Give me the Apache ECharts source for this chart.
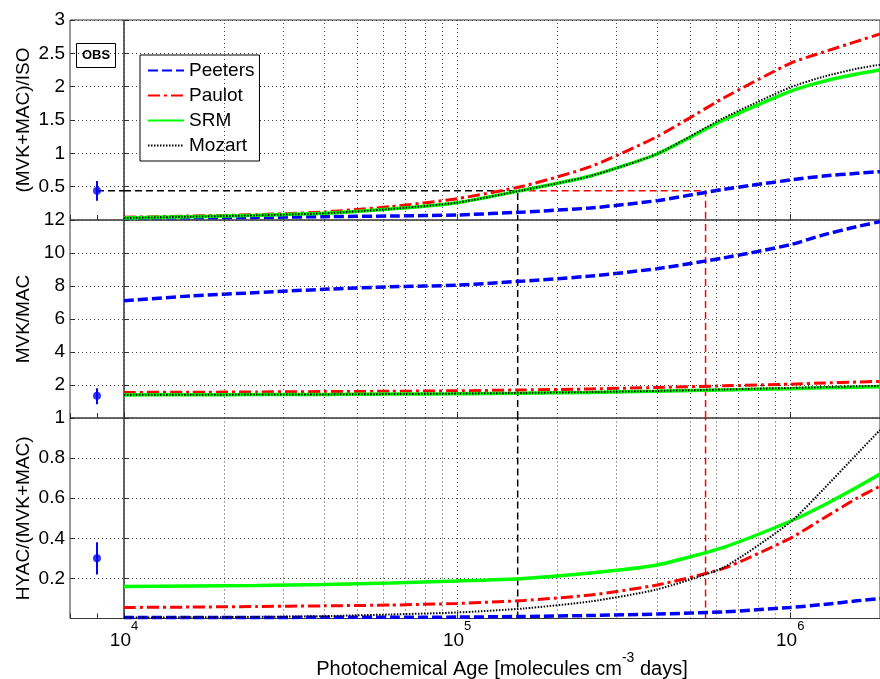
<!DOCTYPE html>
<html><head><meta charset="utf-8">
<script src="https://cdn.jsdelivr.net/npm/echarts@6/dist/echarts.min.js"></script>
<style>html,body{margin:0;padding:0;background:#fff}#c{width:880px;height:679px}</style>
</head><body><div id="c"></div>
<script>
// ---- data ----
const age = [1e4, 1.585e4, 2.512e4, 3.981e4, 6.31e4, 1e5, 1.585e5, 2.512e5, 3.981e5, 6.31e5, 1e6, 1.259e6, 1.585e6, 1.86e6];
const xTickExponents = [4, 5, 6];
const minorGrid = [2e4,3e4,4e4,5e4,6e4,7e4,8e4,9e4,2e5,3e5,4e5,5e5,6e5,7e5,8e5,9e5];
const seriesNames = ['Peeters', 'Paulot', 'SRM', 'Mozart'];
const panelNames = ['(MVK+MAC)/ISO', 'MVK/MAC', 'HYAC/(MVK+MAC)'];
const yMin = [0, 0, 0];
const yMax = [3, 12, 1];
const yStep = [0.5, 2, 0.2];

// (MVK+MAC)/ISO
const peeters1 = [0.03, 0.035, 0.04, 0.05, 0.06, 0.075, 0.12, 0.18, 0.29, 0.46, 0.6, 0.66, 0.7, 0.725];
const paulot1  = [0.04, 0.06, 0.08, 0.12, 0.2, 0.32, 0.51, 0.8, 1.25, 1.83, 2.35, 2.52, 2.68, 2.79];
const srm1     = [0.03, 0.05, 0.07, 0.1, 0.165, 0.26, 0.45, 0.66, 0.99, 1.5, 1.93, 2.08, 2.19, 2.25];
const mozart1  = [0.03, 0.05, 0.07, 0.1, 0.165, 0.26, 0.45, 0.66, 0.99, 1.53, 1.99, 2.15, 2.27, 2.33];
// MVK/MAC
const peeters2 = [7.1, 7.4, 7.6, 7.8, 7.95, 8.05, 8.3, 8.6, 9.05, 9.7, 10.5, 11.1, 11.6, 11.9];
const paulot2  = [1.55, 1.56, 1.58, 1.6, 1.62, 1.65, 1.7, 1.76, 1.85, 1.95, 2.05, 2.12, 2.18, 2.22];
const srm2     = [1.4, 1.41, 1.42, 1.43, 1.45, 1.47, 1.5, 1.55, 1.62, 1.7, 1.78, 1.83, 1.87, 1.9];
const mozart2  = [1.4, 1.41, 1.42, 1.43, 1.45, 1.48, 1.52, 1.57, 1.64, 1.73, 1.82, 1.87, 1.92, 1.95];
// HYAC/(MVK+MAC)
const peeters3 = [0.005, 0.005, 0.005, 0.006, 0.006, 0.007, 0.01, 0.015, 0.022, 0.033, 0.055, 0.07, 0.088, 0.1];
const paulot3  = [0.055, 0.057, 0.06, 0.063, 0.067, 0.075, 0.09, 0.117, 0.167, 0.25, 0.4, 0.5, 0.6, 0.66];
const srm3     = [0.16, 0.162, 0.165, 0.17, 0.177, 0.187, 0.2, 0.227, 0.267, 0.355, 0.485, 0.565, 0.655, 0.72];
const mozart3  = [0.005, 0.006, 0.008, 0.012, 0.02, 0.03, 0.05, 0.085, 0.145, 0.255, 0.48, 0.645, 0.82, 0.94];

// observations (value, low, high)
const obsValue = [0.44, 1.35, 0.30];
const obsLow   = [0.29, 0.83, 0.22];
const obsHigh  = [0.585, 1.8, 0.38];
// photochemical ages where models match observed ratio
const srmCross = 1.52e5;
const peetersCross = 5.57e5;

// ---- chart ----
const FONT = '"Liberation Sans", Arial, Helvetica, sans-serif';
const tops = [20, 220, 418];
const heights = [200, 198, 200.5];
const panelData = [
  [peeters1, paulot1, srm1, mozart1],
  [peeters2, paulot2, srm2, mozart2],
  [peeters3, paulot3, srm3, mozart3]
];
const styles = [
  {color: '#0000ff', width: 3.5, type: [10, 4]},
  {color: '#ff0000', width: 3, type: [12, 4, 3, 4]},
  {color: '#00ff00', width: 3.5, type: 'solid'},
  {color: '#000000', width: 2, type: [1.5, 1.5]}
];
const dotted = {color: '#444', width: 1, type: [1, 3]};

const grid = [], xAxis = [], yAxis = [], series = [];
for (let i = 0; i < 3; i++) {
  grid.push({left: 70, width: 54, top: tops[i], height: heights[i], show: true, borderColor: '#333', borderWidth: 1,
    backgroundColor: 'transparent', containLabel: false, outerBoundsMode: 'none'});
  grid.push({left: 124, right: 0, top: tops[i], height: heights[i], show: true, borderColor: '#333', borderWidth: 1,
    backgroundColor: 'transparent', containLabel: false, outerBoundsMode: 'none'});
  const isBottom = i === 2;
  xAxis.push({type: 'value', gridIndex: 2 * i, min: 0, max: 2, interval: 1,
    axisLine: {show: false}, axisLabel: {show: false}, splitLine: {show: false},
    axisTick: {show: true, inside: true, length: 5, lineStyle: {color: '#333'}}});
  xAxis.push({type: 'log', logBase: 10, gridIndex: 2 * i + 1, min: 1e4, max: 1.86e6,
    axisLine: {show: false},
    axisTick: {show: true, inside: true, length: 6, lineStyle: {color: '#333'}},
    splitLine: {show: true, lineStyle: dotted},
    axisLabel: {show: isBottom, margin: 1, hideOverlap: false,
      formatter: function (v) {
        const l = Math.log10(v), e = Math.round(l);
        if (Math.abs(l - e) > 1e-6 || xTickExponents.indexOf(e) < 0) return '';
        return '{b|10}{s|' + e + '}';
      },
      rich: {
        b: {fontSize: 19, lineHeight: 31, verticalAlign: 'bottom', fontFamily: FONT, color: '#000'},
        s: {fontSize: 13, lineHeight: 4, verticalAlign: 'top', fontFamily: FONT, color: '#000'}
      }},
    name: isBottom ? '{b|Photochemical Age [molecules cm}{s|-3}{b| days]}' : '',
    nameLocation: 'middle', nameGap: 32,
    nameTextStyle: {rich: {
      b: {fontSize: 20, lineHeight: 28, verticalAlign: 'bottom', fontFamily: FONT, color: '#000'},
      s: {fontSize: 14, lineHeight: 4, verticalAlign: 'top', fontFamily: FONT, color: '#000'}
    }}
  });
  yAxis.push({type: 'value', gridIndex: 2 * i, min: yMin[i], max: yMax[i], interval: yStep[i],
    axisLine: {show: false},
    axisTick: {show: true, inside: true, length: 5, lineStyle: {color: '#333'}},
    splitLine: {show: true, lineStyle: dotted},
    axisLabel: {show: true, showMinLabel: false, margin: 5, fontSize: 19, fontFamily: FONT, color: '#000'},
    name: panelNames[i], nameLocation: 'middle', nameGap: 37, nameRotate: 90,
    nameTextStyle: {fontSize: 19, fontFamily: FONT, color: '#000'}});
  yAxis.push({type: 'value', gridIndex: 2 * i + 1, min: yMin[i], max: yMax[i], interval: yStep[i],
    axisLine: {show: false}, axisLabel: {show: false},
    axisTick: {show: true, inside: true, length: 5, lineStyle: {color: '#333'}},
    splitLine: {show: true, lineStyle: dotted}});

  // minor vertical grid lines
  series.push({type: 'line', xAxisIndex: 2 * i + 1, yAxisIndex: 2 * i + 1, data: [], z: 1, silent: true,
    markLine: {silent: true, symbol: ['none', 'none'], label: {show: false}, animation: false,
      lineStyle: dotted, data: minorGrid.map(v => ({xAxis: v}))}});

  // model curves
  for (let k = 0; k < 4; k++) {
    series.push({type: 'line', name: seriesNames[k], xAxisIndex: 2 * i + 1, yAxisIndex: 2 * i + 1,
      data: age.map((a, j) => [a, panelData[i][k][j]]), symbol: 'none', showSymbol: false,
      smooth: 0.2, silent: true, z: 3 + k,
      lineStyle: {color: styles[k].color, width: styles[k].width, type: styles[k].type},
      itemStyle: {color: styles[k].color}});
  }

  // reference dashed lines
  if (i === 0) {
    series.push({type: 'line', xAxisIndex: 0, yAxisIndex: 0, symbol: 'none', silent: true, z: 2,
      data: [[1, obsValue[0]], [2, obsValue[0]]], lineStyle: {color: '#000', width: 1.5, type: [7, 4]}});
    series.push({type: 'line', xAxisIndex: 1, yAxisIndex: 1, symbol: 'none', silent: true, z: 2,
      data: [[1e4, obsValue[0]], [srmCross, obsValue[0]], [srmCross, yMin[0]]], lineStyle: {color: '#000', width: 1.5, type: [7, 4]}});
    series.push({type: 'line', xAxisIndex: 1, yAxisIndex: 1, symbol: 'none', silent: true, z: 2,
      data: [[srmCross, obsValue[0]], [peetersCross, obsValue[0]], [peetersCross, yMin[0]]], lineStyle: {color: '#ff0000', width: 1.5, type: [7, 4]}});
  } else {
    series.push({type: 'line', xAxisIndex: 2 * i + 1, yAxisIndex: 2 * i + 1, symbol: 'none', silent: true, z: 2,
      data: [[srmCross, yMin[i]], [srmCross, yMax[i]]], lineStyle: {color: '#000', width: 1.5, type: [7, 4]}});
    series.push({type: 'line', xAxisIndex: 2 * i + 1, yAxisIndex: 2 * i + 1, symbol: 'none', silent: true, z: 2,
      data: [[peetersCross, yMin[i]], [peetersCross, yMax[i]]], lineStyle: {color: '#ff0000', width: 1.5, type: [7, 4]}});
  }

  // observation with error bar
  series.push({type: 'line', xAxisIndex: 2 * i, yAxisIndex: 2 * i, symbol: 'none', silent: true, z: 5,
    data: [[1, obsLow[i]], [1, obsHigh[i]]], lineStyle: {color: '#0000ff', width: 2, type: 'solid'}});
  series.push({type: 'scatter', xAxisIndex: 2 * i, yAxisIndex: 2 * i, silent: true, z: 6,
    data: [[1, obsValue[i]]], symbol: 'circle', symbolSize: 8, itemStyle: {color: '#0000ff'}});
}

const chart = echarts.init(document.getElementById('c'), null, {renderer: 'canvas'});
chart.setOption({
  animation: false,
  backgroundColor: '#fff',
  title: {text: 'OBS', left: 76, top: 43, padding: [6, 6, 6, 6], borderWidth: 1, borderColor: '#000',
    textStyle: {fontSize: 13, fontWeight: 'bold', fontFamily: FONT, color: '#000'}},
  legend: {data: seriesNames, orient: 'vertical', left: 140, top: 55, selectedMode: false,
    itemWidth: 36, itemHeight: 14, itemGap: 6, padding: [6, 5, 6, 7],
    borderColor: '#000', borderWidth: 1, backgroundColor: '#fff',
    itemStyle: {opacity: 0, borderWidth: 0},
    textStyle: {fontSize: 19, fontFamily: FONT, color: '#000'}},
  grid, xAxis, yAxis, series
});
</script></body></html>
